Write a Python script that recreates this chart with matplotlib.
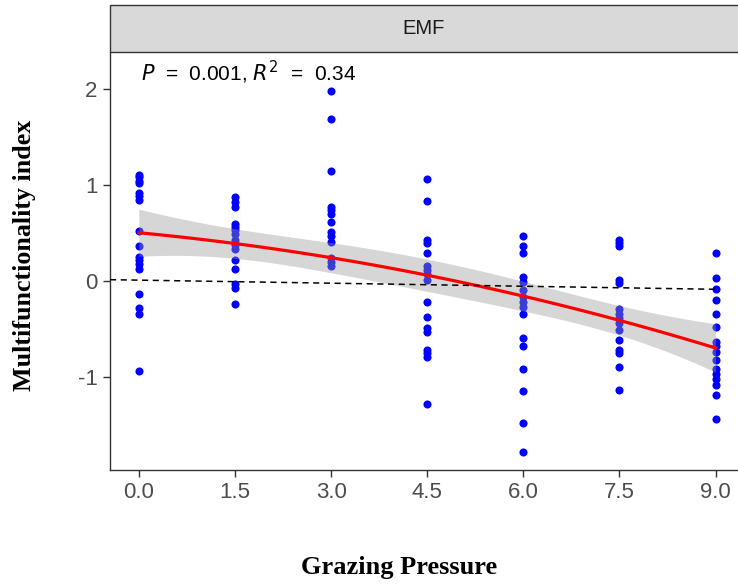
import numpy as np
import matplotlib
matplotlib.use("Agg")
from matplotlib import pyplot as plt
from matplotlib.patches import Rectangle

# grazing pressure levels and multifunctionality values
x0 = [1.104, 1.08, 1.045, 1.017, 0.92, 0.885, 0.844, 0.524, 0.368, 0.253,
      0.219, 0.177, 0.125, -0.139, -0.278, -0.337, -0.934]
x15 = [0.878, 0.826, 0.767, 0.594, 0.566, 0.531, 0.49, 0.427, 0.375, 0.333,
       0.219, 0.122, -0.035, -0.069, -0.243]
x30 = [1.979, 1.691, 1.146, 0.774, 0.74, 0.698, 0.618, 0.514, 0.469, 0.41,
       0.236, 0.194, 0.156]
x45 = [1.059, 0.833, 0.427, 0.399, 0.295, 0.156, 0.115, 0.069, 0.01, -0.215,
       -0.372, -0.493, -0.528, -0.712, -0.753, -0.788, -1.281]
x60 = [0.472, 0.368, 0.288, 0.038, -0.007, -0.094, -0.163, -0.215, -0.267,
       -0.337, -0.597, -0.677, -0.91, -1.146, -1.476, -1.778]
x75 = [0.427, 0.399, 0.368, 0.01, -0.017, -0.285, -0.337, -0.389, -0.441,
       -0.51, -0.615, -0.719, -0.747, -0.892, -1.135]
x90 = [0.288, 0.028, -0.083, -0.198, -0.344, -0.476, -0.632, -0.677, -0.736,
       -0.816, -0.91, -0.962, -1.014, -1.083, -1.188, -1.43]

levels = [0.0, 1.5, 3.0, 4.5, 6.0, 7.5, 9.0]
groups = [x0, x15, x30, x45, x60, x75, x90]

# dashed reference line (start / end values)
ref_x = [-0.45, 9.0]
ref_y = [0.015, -0.085]

label = r"$\it{P}$  =  0.001, $\it{R^2}$  =  0.34"

x = np.concatenate([[lv] * len(g) for lv, g in zip(levels, groups)])
y = np.concatenate(groups)

# quadratic lm fit with 95% confidence band
X = np.column_stack([np.ones_like(x), x, x ** 2])
beta, rss, _, _ = np.linalg.lstsq(X, y, rcond=None)
n = len(y)
s2 = rss[0] / (n - 3)
cov = s2 * np.linalg.inv(X.T @ X)
xs = np.linspace(0, 9, 80)
Xs = np.column_stack([np.ones_like(xs), xs, xs ** 2])
fit = Xs @ beta
se = np.sqrt(np.einsum("ij,jk,ik->i", Xs, cov, Xs))
tq = 1.983

plt.rcParams['font.family'] = ['Liberation Sans', 'DejaVu Sans']
plt.rcParams['axes.unicode_minus'] = False

fig = plt.figure(figsize=(7.38, 5.87), dpi=100)
ax = fig.add_axes([110 / 738, 1 - 470 / 587, 628 / 738, 418 / 587])

ax.scatter(x, y, s=34, color="#0000FF", linewidths=0, zorder=2)
ax.fill_between(xs, fit - tq * se, fit + tq * se, color="#999999", alpha=0.4,
                linewidth=0, zorder=3)
ax.plot(xs, fit, color="#FF0000", lw=2.3, zorder=4)
ax.plot(ref_x, ref_y, color="black", lw=1.1, ls=(0, (4, 3)), zorder=5)

ax.set_xlim(-0.45, 9.35)
ax.set_ylim(-1.966, 2.385)
ax.set_xticks(levels)
ax.set_xticklabels(["%.1f" % v for v in levels])
ax.set_yticks([-1, 0, 1, 2])

for sp in ["top", "right"]:
    ax.spines[sp].set_visible(False)
for sp in ["left", "bottom"]:
    ax.spines[sp].set_color("#333333")
    ax.spines[sp].set_linewidth(1.0)
ax.tick_params(axis="both", colors="#333333", length=5, width=1.0,
               labelsize=16, labelcolor="#4D4D4D", pad=4)

ax.text(0.04, 2.17, label, fontsize=15, color="black", ha="left", va="center")

ax.set_xlabel("Grazing Pressure", family="Liberation Serif", weight="bold",
              fontsize=19, va="center", ha="center")
ax.xaxis.set_label_coords(0.46, -0.2344)
ax.set_ylabel("Multifunctionality index", family="Liberation Serif",
              weight="bold", fontsize=18.7, va="center", ha="center")
ax.yaxis.set_label_coords(-0.1354, 0.514)

# facet strip
strip = Rectangle((110 / 738, 1 - 52 / 587), 640 / 738, 47 / 587,
                  transform=fig.transFigure, facecolor="#D9D9D9",
                  edgecolor="#333333", linewidth=1.0)
fig.patches.append(strip)
fig.text((110 + 738) / 2 / 738, 1 - 28.5 / 587, "EMF", ha="center",
         va="center", fontsize=14.5, color="#1A1A1A")

fig.savefig("out.png", dpi=100)
